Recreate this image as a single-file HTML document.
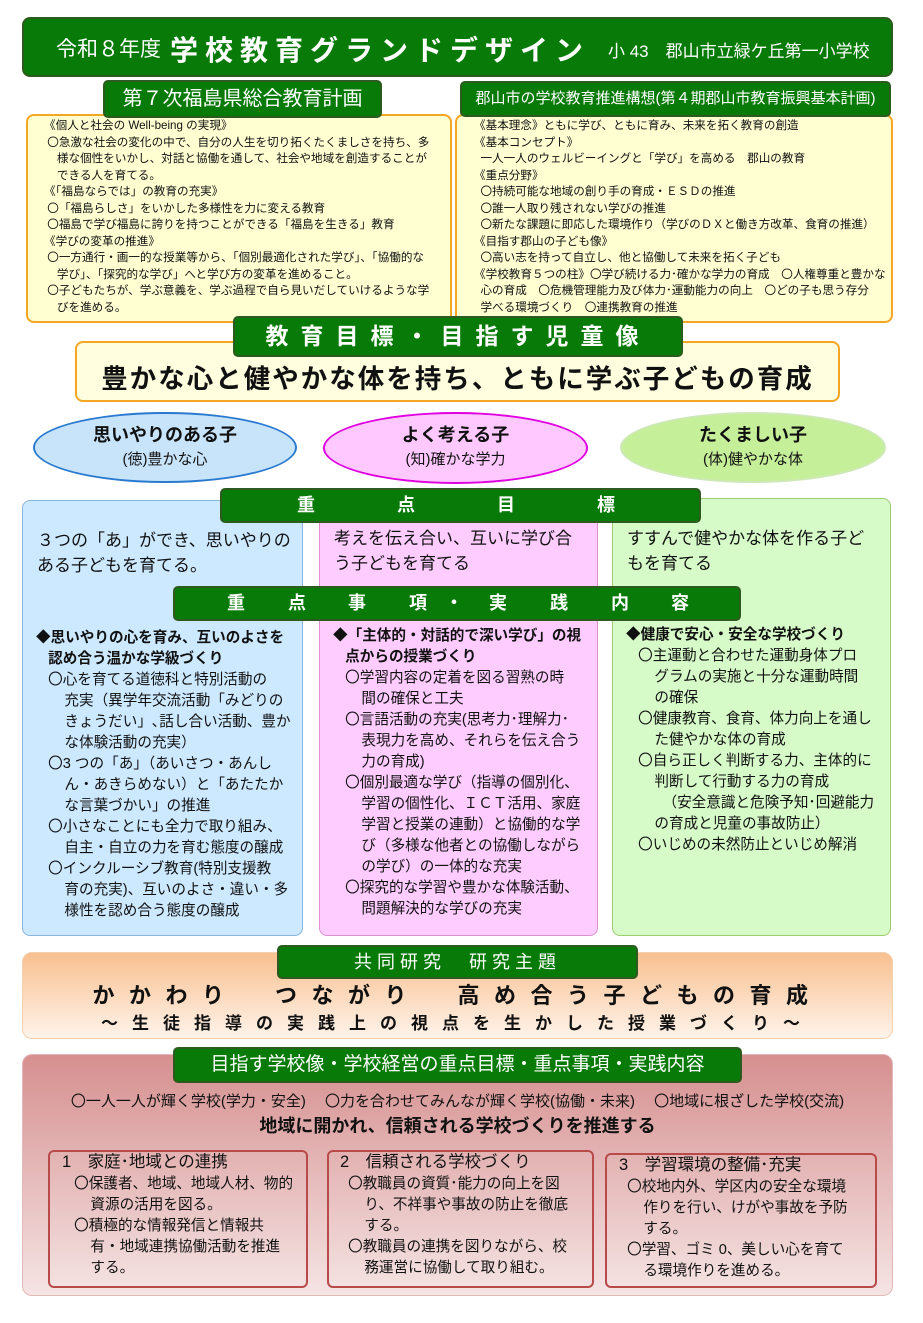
<!DOCTYPE html>
<html><head><meta charset="utf-8"><style>
*{margin:0;padding:0;box-sizing:border-box}
body{width:923px;height:1323px;background:#fff;position:relative;font-family:"Liberation Sans","Noto Sans CJK JP",sans-serif;color:#111;overflow:hidden}
.a{position:absolute}
.g{background:#087a08;border:2px solid #2d5a1e;border-radius:5px;color:#fff;text-align:center;white-space:nowrap}
.yb{background:#ffffd2;border:2px solid #f5a623;border-radius:8px}
.ln{white-space:nowrap}
.t11{font-size:11.6px;line-height:16.5px}
.col{border-radius:8px}
.c15{font-size:14.6px;line-height:21px;position:absolute;white-space:nowrap}
.sb{border:2px solid #b84a4a;border-radius:6px;position:absolute}
.s15{font-size:14.6px;line-height:21px;white-space:nowrap}
</style></head><body>
<div class="a g" style="left:22px;top:17px;width:871px;height:60px;border-radius:8px;text-align:left">
<span class="a" style="left:32px;top:14px;font-size:21px">令和８年度</span>
<span class="a" style="left:146px;top:10px;font-size:28px;font-weight:bold;letter-spacing:7px">学校教育グランドデザイン</span>
<span class="a" style="left:584px;top:18px;font-size:17px">小 43　郡山市立緑ケ丘第一小学校</span>
</div>
<div class="a yb" style="left:26px;top:114px;width:426px;height:209px"></div>
<div class="a yb" style="left:455px;top:114px;width:438px;height:209px"></div>
<div class="a g" style="left:103px;top:80px;width:279px;height:38px;font-size:20px;line-height:34px">第７次福島県総合教育計画</div>
<div class="a g" style="left:460px;top:81px;width:431px;height:36px;font-size:15px;line-height:32px">郡山市の学校教育推進構想(第４期郡山市教育振興基本計画)</div>
<div class="a t11" style="left:44px;top:118px">
<div class="ln">《個人と社会の Well-being の実現》</div>
<div class="ln">&nbsp;〇急激な社会の変化の中で、自分の人生を切り拓くたくましさを持ち、多</div>
<div class="ln">&nbsp;&nbsp;&nbsp;&nbsp;様な個性をいかし、対話と協働を通して、社会や地域を創造することが</div>
<div class="ln">&nbsp;&nbsp;&nbsp;&nbsp;できる人を育てる。</div>
<div class="ln">《「福島ならでは」の教育の充実》</div>
<div class="ln">&nbsp;〇「福島らしさ」をいかした多様性を力に変える教育</div>
<div class="ln">&nbsp;〇福島で学び福島に誇りを持つことができる「福島を生きる」教育</div>
<div class="ln">《学びの変革の推進》</div>
<div class="ln">&nbsp;〇一方通行・画一的な授業等から、「個別最適化された学び」、「協働的な</div>
<div class="ln">&nbsp;&nbsp;&nbsp;&nbsp;学び」、「探究的な学び」へと学び方の変革を進めること。</div>
<div class="ln">&nbsp;〇子どもたちが、学ぶ意義を、学ぶ過程で自ら見いだしていけるような学</div>
<div class="ln">&nbsp;&nbsp;&nbsp;&nbsp;びを進める。</div>
</div>
<div class="a t11" style="left:474px;top:118px">
<div class="ln">《基本理念》ともに学び、ともに育み、未来を拓く教育の創造</div>
<div class="ln">《基本コンセプト》</div>
<div class="ln">&nbsp;&nbsp;一人一人のウェルビーイングと「学び」を高める　郡山の教育</div>
<div class="ln">《重点分野》</div>
<div class="ln">&nbsp;&nbsp;〇持続可能な地域の創り手の育成・ＥＳＤの推進</div>
<div class="ln">&nbsp;&nbsp;〇誰一人取り残されない学びの推進</div>
<div class="ln">&nbsp;&nbsp;〇新たな課題に即応した環境作り（学びのＤＸと働き方改革、食育の推進）</div>
<div class="ln">《目指す郡山の子ども像》</div>
<div class="ln">&nbsp;&nbsp;〇高い志を持って自立し、他と協働して未来を拓く子ども</div>
<div class="ln">《学校教育５つの柱》〇学び続ける力･確かな学力の育成　〇人権尊重と豊かな</div>
<div class="ln">&nbsp;&nbsp;心の育成　〇危機管理能力及び体力･運動能力の向上　〇どの子も思う存分</div>
<div class="ln">&nbsp;&nbsp;学べる環境づくり　〇連携教育の推進</div>
</div>
<div class="a yb" style="left:75px;top:341px;width:765px;height:61px;background:#ffffe0"></div>
<div class="a" style="left:75px;top:357px;width:765px;text-align:center;font-size:26.5px;font-weight:bold;letter-spacing:2px;white-space:nowrap">豊かな心と健やかな体を持ち、ともに学ぶ子どもの育成</div>
<div class="a g" style="left:233px;top:316px;width:450px;height:41px;font-size:23px;line-height:37px;letter-spacing:12px;font-weight:bold">教育目標・目指す児童像</div>
<div class="a" style="left:33px;top:412px;width:264px;height:71px;border-radius:50%;background:#c8e4fa;border:2px solid #2a7ad0;text-align:center;padding-top:9px"><div style="font-size:18px;font-weight:bold;line-height:25px">思いやりのある子</div><div style="font-size:15px;line-height:24px">(徳)豊かな心</div></div>
<div class="a" style="left:323px;top:412px;width:265px;height:72px;border-radius:50%;background:#ffc8ff;border:2px solid #e000e0;text-align:center;padding-top:9px"><div style="font-size:18px;font-weight:bold;line-height:25px">よく考える子</div><div style="font-size:15px;line-height:24px">(知)確かな学力</div></div>
<div class="a" style="left:620px;top:412px;width:266px;height:71px;border-radius:50%;background:#c6ef9a;border:2px solid #cfe8b8;text-align:center;padding-top:9px"><div style="font-size:18px;font-weight:bold;line-height:25px">たくましい子</div><div style="font-size:15px;line-height:24px">(体)健やかな体</div></div>
<div class="a col" style="left:22px;top:500px;width:281px;height:436px;background:#cce9ff;border:1.5px solid #8ab4e0"></div>
<div class="a col" style="left:319px;top:500px;width:279px;height:436px;background:#ffccff;border:1.5px solid #e090d0"></div>
<div class="a col" style="left:612px;top:498px;width:279px;height:438px;background:#d6fbc8;border:1.5px solid #9ccc70"></div>
<div class="a g" style="left:220px;top:488px;width:481px;height:35px;font-size:18px;line-height:31px;font-weight:bold"><span class="a" style="left:75px">重</span><span class="a" style="left:175px">点</span><span class="a" style="left:275px">目</span><span class="a" style="left:375px">標</span></div>
<div class="a" style="left:37px;top:528px;font-size:17px;line-height:25px">３つの「あ」ができ、思いやりの<br>ある子どもを育てる。</div>
<div class="a" style="left:334px;top:526px;font-size:17px;line-height:25px">考えを伝え合い、互いに学び合<br>う子どもを育てる</div>
<div class="a" style="left:627px;top:526px;font-size:17px;line-height:25px">すすんで健やかな体を作る子ど<br>もを育てる</div>
<div class="a g" style="left:173px;top:586px;width:568px;height:35px;font-size:18px;line-height:31px;font-weight:bold"><span class="a" style="left:52px">重</span><span class="a" style="left:113px">点</span><span class="a" style="left:173px">事</span><span class="a" style="left:234px">項</span><span class="a" style="left:270px">・</span><span class="a" style="left:314px">実</span><span class="a" style="left:375px">践</span><span class="a" style="left:436px">内</span><span class="a" style="left:496px">容</span></div>
<div class="c15" style="left:36px;top:628px">
<div style="font-weight:bold">◆思いやりの心を育み、互いのよさを</div>
<div style="font-weight:bold">&nbsp;&nbsp;&nbsp;認め合う温かな学級づくり</div>
<div>&nbsp;&nbsp;&nbsp;〇心を育てる道徳科と特別活動の</div>
<div>&nbsp;&nbsp;&nbsp;&nbsp;&nbsp;&nbsp;&nbsp;充実（異学年交流活動「みどりの</div>
<div>&nbsp;&nbsp;&nbsp;&nbsp;&nbsp;&nbsp;&nbsp;きょうだい」､話し合い活動、豊か</div>
<div>&nbsp;&nbsp;&nbsp;&nbsp;&nbsp;&nbsp;&nbsp;な体験活動の充実）</div>
<div>&nbsp;&nbsp;&nbsp;〇3 つの「あ」（あいさつ・あんし</div>
<div>&nbsp;&nbsp;&nbsp;&nbsp;&nbsp;&nbsp;&nbsp;ん・あきらめない）と「あたたか</div>
<div>&nbsp;&nbsp;&nbsp;&nbsp;&nbsp;&nbsp;&nbsp;な言葉づかい」の推進</div>
<div>&nbsp;&nbsp;&nbsp;〇小さなことにも全力で取り組み、</div>
<div>&nbsp;&nbsp;&nbsp;&nbsp;&nbsp;&nbsp;&nbsp;自主・自立の力を育む態度の醸成</div>
<div>&nbsp;&nbsp;&nbsp;〇インクルーシブ教育(特別支援教</div>
<div>&nbsp;&nbsp;&nbsp;&nbsp;&nbsp;&nbsp;&nbsp;育の充実)、互いのよさ・違い・多</div>
<div>&nbsp;&nbsp;&nbsp;&nbsp;&nbsp;&nbsp;&nbsp;様性を認め合う態度の醸成</div>
</div>
<div class="c15" style="left:333px;top:626px">
<div style="font-weight:bold">◆「主体的・対話的で深い学び」の視</div>
<div style="font-weight:bold">&nbsp;&nbsp;&nbsp;点からの授業づくり</div>
<div>&nbsp;&nbsp;&nbsp;〇学習内容の定着を図る習熟の時</div>
<div>&nbsp;&nbsp;&nbsp;&nbsp;&nbsp;&nbsp;&nbsp;間の確保と工夫</div>
<div>&nbsp;&nbsp;&nbsp;〇言語活動の充実(思考力･理解力･</div>
<div>&nbsp;&nbsp;&nbsp;&nbsp;&nbsp;&nbsp;&nbsp;表現力を高め、それらを伝え合う</div>
<div>&nbsp;&nbsp;&nbsp;&nbsp;&nbsp;&nbsp;&nbsp;力の育成)</div>
<div>&nbsp;&nbsp;&nbsp;〇個別最適な学び（指導の個別化、</div>
<div>&nbsp;&nbsp;&nbsp;&nbsp;&nbsp;&nbsp;&nbsp;学習の個性化、ＩＣＴ活用、家庭</div>
<div>&nbsp;&nbsp;&nbsp;&nbsp;&nbsp;&nbsp;&nbsp;学習と授業の連動）と協働的な学</div>
<div>&nbsp;&nbsp;&nbsp;&nbsp;&nbsp;&nbsp;&nbsp;び（多様な他者との協働しながら</div>
<div>&nbsp;&nbsp;&nbsp;&nbsp;&nbsp;&nbsp;&nbsp;の学び）の一体的な充実</div>
<div>&nbsp;&nbsp;&nbsp;〇探究的な学習や豊かな体験活動、</div>
<div>&nbsp;&nbsp;&nbsp;&nbsp;&nbsp;&nbsp;&nbsp;問題解決的な学びの充実</div>
</div>
<div class="c15" style="left:626px;top:625px">
<div style="font-weight:bold">◆健康で安心・安全な学校づくり</div>
<div>&nbsp;&nbsp;&nbsp;〇主運動と合わせた運動身体プロ</div>
<div>&nbsp;&nbsp;&nbsp;&nbsp;&nbsp;&nbsp;&nbsp;グラムの実施と十分な運動時間</div>
<div>&nbsp;&nbsp;&nbsp;&nbsp;&nbsp;&nbsp;&nbsp;の確保</div>
<div>&nbsp;&nbsp;&nbsp;〇健康教育、食育、体力向上を通し</div>
<div>&nbsp;&nbsp;&nbsp;&nbsp;&nbsp;&nbsp;&nbsp;た健やかな体の育成</div>
<div>&nbsp;&nbsp;&nbsp;〇自ら正しく判断する力、主体的に</div>
<div>&nbsp;&nbsp;&nbsp;&nbsp;&nbsp;&nbsp;&nbsp;判断して行動する力の育成</div>
<div>&nbsp;&nbsp;&nbsp;&nbsp;&nbsp;&nbsp;&nbsp;&nbsp;&nbsp;（安全意識と危険予知･回避能力</div>
<div>&nbsp;&nbsp;&nbsp;&nbsp;&nbsp;&nbsp;&nbsp;の育成と児童の事故防止）</div>
<div>&nbsp;&nbsp;&nbsp;〇いじめの未然防止といじめ解消</div>
</div>
<div class="a" style="left:22px;top:952px;width:871px;height:87px;border-radius:10px;background:linear-gradient(#f8c08f,#fff3ea);border:1px solid #f3cfae"></div>
<div class="a g" style="left:277px;top:945px;width:361px;height:34px;font-size:18px;line-height:30px;letter-spacing:5px">共同研究　研究主題</div>
<div class="a" style="left:22px;top:978px;width:871px;text-align:center;font-size:22px;font-weight:bold;letter-spacing:14.5px;white-space:nowrap">かかわり　つながり　高め合う子どもの育成</div>
<div class="a" style="left:22px;top:1009px;width:871px;text-align:center;font-size:17px;font-weight:bold;letter-spacing:14px;white-space:nowrap">～生徒指導の実践上の視点を生かした授業づくり～</div>
<div class="a" style="left:22px;top:1054px;width:871px;height:242px;border-radius:10px;background:linear-gradient(#d68f8f,#f5e4e4);border:1px solid #e3b8b8"></div>
<div class="a g" style="left:173px;top:1047px;width:569px;height:36px;font-size:19px;line-height:32px">目指す学校像・学校経営の重点目標・重点事項・実践内容</div>
<div class="a" style="left:22px;top:1090px;width:871px;text-align:center;font-size:15px;white-space:nowrap">〇一人一人が輝く学校(学力・安全)　 〇力を合わせてみんなが輝く学校(協働・未来)　 〇地域に根ざした学校(交流)</div>
<div class="a" style="left:22px;top:1112px;width:871px;text-align:center;font-size:18px;font-weight:bold">地域に開かれ、信頼される学校づくりを推進する</div>
<div class="sb" style="left:48px;top:1150px;width:260px;height:138px"></div>
<div class="sb" style="left:327px;top:1150px;width:267px;height:138px"></div>
<div class="sb" style="left:605px;top:1153px;width:272px;height:135px"></div>
<div class="a s15" style="left:62px;top:1150px"><div style="font-size:16.5px;line-height:24px">1　家庭･地域との連携</div>
<div style="line-height:21px">&nbsp;&nbsp;&nbsp;〇保護者、地域、地域人材、物的</div><div>&nbsp;&nbsp;&nbsp;&nbsp;&nbsp;&nbsp;&nbsp;資源の活用を図る。</div><div>&nbsp;&nbsp;&nbsp;〇積極的な情報発信と情報共</div><div>&nbsp;&nbsp;&nbsp;&nbsp;&nbsp;&nbsp;&nbsp;有・地域連携協働活動を推進</div><div>&nbsp;&nbsp;&nbsp;&nbsp;&nbsp;&nbsp;&nbsp;する。</div></div>
<div class="a s15" style="left:340px;top:1150px"><div style="font-size:16.5px;line-height:24px">2　信頼される学校づくり</div>
<div>&nbsp;&nbsp;〇教職員の資質･能力の向上を図</div><div>&nbsp;&nbsp;&nbsp;&nbsp;&nbsp;&nbsp;り、不祥事や事故の防止を徹底</div><div>&nbsp;&nbsp;&nbsp;&nbsp;&nbsp;&nbsp;する。</div><div>&nbsp;&nbsp;〇教職員の連携を図りながら、校</div><div>&nbsp;&nbsp;&nbsp;&nbsp;&nbsp;&nbsp;務運営に協働して取り組む。</div></div>
<div class="a s15" style="left:619px;top:1153px"><div style="font-size:16.5px;line-height:24px">3　学習環境の整備･充実</div>
<div>&nbsp;&nbsp;〇校地内外、学区内の安全な環境</div><div>&nbsp;&nbsp;&nbsp;&nbsp;&nbsp;&nbsp;作りを行い、けがや事故を予防</div><div>&nbsp;&nbsp;&nbsp;&nbsp;&nbsp;&nbsp;する。</div><div>&nbsp;&nbsp;〇学習、ゴミ 0、美しい心を育て</div><div>&nbsp;&nbsp;&nbsp;&nbsp;&nbsp;&nbsp;る環境作りを進める。</div></div>
</body></html>
